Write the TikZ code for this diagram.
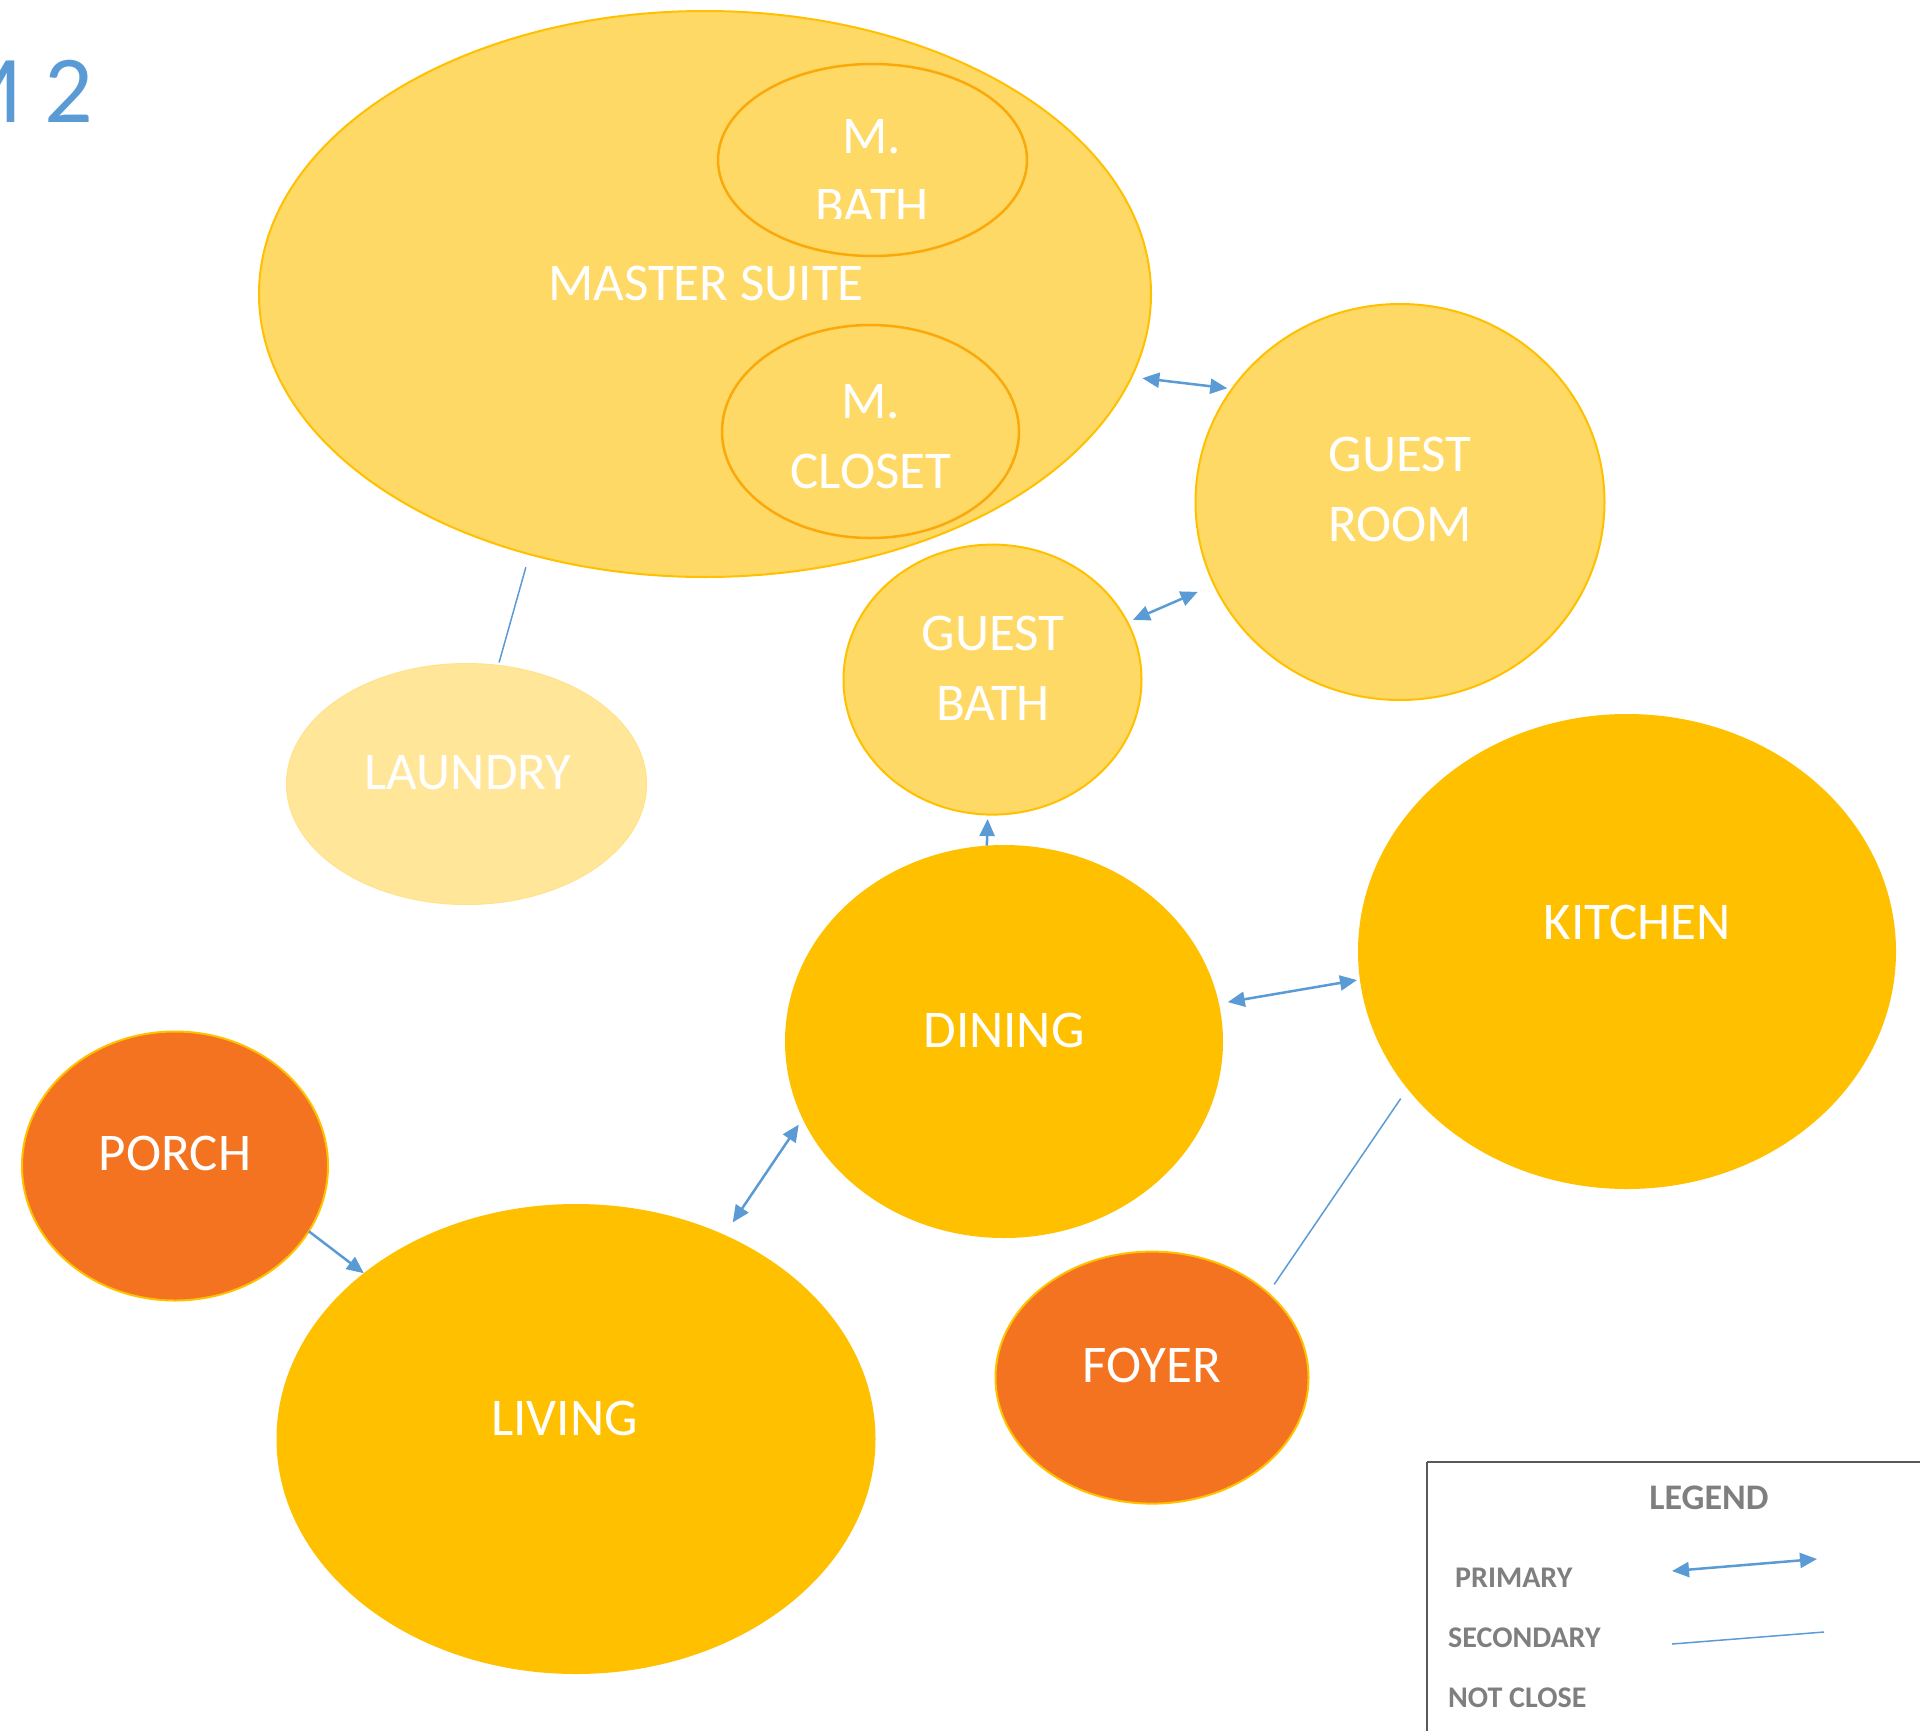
\documentclass[tikz,border=0pt]{standalone}
\usepackage{fontspec}
\setmainfont{Carlito}
\usetikzlibrary{shapes.geometric,arrows.meta}
\definecolor{lightgold}{HTML}{FFD966}
\definecolor{gold}{HTML}{FFC000}
\definecolor{paleg}{HTML}{FFE699}
\definecolor{orng}{HTML}{F47320}
\definecolor{innerb}{HTML}{FBA90A}
\definecolor{arrowblue}{HTML}{5B9BD5}
\definecolor{leggray}{HTML}{7F7F7F}
\definecolor{legbox}{HTML}{595959}
\tikzset{
  room/.style={ellipse, inner sep=0pt, outer sep=0pt},
  lbl/.style={text=white, font=\fontsize{53}{70}\selectfont, align=center, inner sep=0pt},
  primline/.style={draw=arrowblue, line width=2.5pt, {Triangle[length=17pt,width=15pt]}-{Triangle[length=17pt,width=15pt]}},
  oneway/.style={draw=arrowblue, line width=2.5pt, -{Triangle[length=17pt,width=15pt]}},
  secline/.style={draw=arrowblue, line width=1.5pt},
  legtxt/.style={text=leggray, font=\bfseries\fontsize{30}{36}\selectfont, inner sep=0pt, anchor=west}
}
\begin{document}
\begin{tikzpicture}[x=1pt,y=-1pt]
\useasboundingbox (0,0) rectangle (1920,1730);
% title
\node[anchor=base east, text=arrowblue, font=\fontsize{96}{100}\selectfont, inner sep=0pt] (title) at (93,122) {M 2};
% rooms
\node[room, fill=lightgold, draw=gold, line width=2pt, minimum width=892pt, minimum height=566pt] (ms) at (705,294) {};
\node[room, fill=lightgold, draw=innerb, line width=2.5pt, minimum width=309pt, minimum height=192pt] (mb) at (872.5,160) {};
\node[room, fill=lightgold, draw=innerb, line width=2.5pt, minimum width=297pt, minimum height=213pt] (mc) at (870.5,431.5) {};
\node[room, fill=lightgold, draw=gold, line width=2pt, minimum width=409pt, minimum height=396pt] (gr) at (1400,502) {};
\node[room, fill=lightgold, draw=gold, line width=2pt, minimum width=298pt, minimum height=270pt] (gb) at (992.5,679.6) {};
\node[room, fill=paleg, draw=paleg!90!gold, line width=1pt, minimum width=360pt, minimum height=241pt] (ld) at (466.5,784) {};
\node[room, fill=gold, minimum width=538pt, minimum height=475pt] (kt) at (1627,951.5) {};
\node[room, fill=gold, minimum width=438pt, minimum height=393pt] (dn) at (1004,1041.5) {};
\node[room, fill=orng, draw=gold, line width=2pt, minimum width=306pt, minimum height=269pt] (pc) at (175,1166) {};
\node[room, fill=gold, minimum width=599pt, minimum height=470pt] (lv) at (576,1439) {};
\node[room, fill=orng, draw=gold, line width=2pt, minimum width=313pt, minimum height=252pt] (fy) at (1152,1377.6) {};
% labels
\node[lbl] (msl) at (706,283) {MASTER SUITE};
\begin{scope}
  \clip (700,60) rectangle (1050,218);
  \node[lbl] (mbl) at (872,171.5) {M.\\BATH};
\end{scope}
\node[lbl] (mcl) at (871,436.5) {M.\\CLOSET};
\node[lbl] (grl) at (1400,489) {GUEST\\ROOM};
\node[lbl] (gbl) at (993,668) {GUEST\\BATH};
\node[lbl] (ldl) at (468,773) {LAUNDRY};
\node[lbl] (ktl) at (1637,922) {KITCHEN};
\node[lbl] (dnl) at (1004,1030) {DINING};
\node[lbl] (pcl) at (175,1153.5) {PORCH};
\node[lbl] (lvl) at (564.5,1418) {LIVING};
\node[lbl] (fyl) at (1152,1365) {FOYER};
% connectors
\draw[primline, shorten <=11pt, shorten >=5pt] (ms.-11.6) -- (gr.146.4);
\draw[primline, shorten <=6pt, shorten >=18pt] (gb.23.8) -- (gr.204.5);
\draw[oneway, shorten >=4.5pt] (dn.95.8) -- (gb.-92.3);
\draw[primline, shorten <=15pt, shorten >=7pt] (lv.54) -- (dn.201.5);
\draw[oneway] (pc.-26.4) -- (lv.142.1);
\draw[primline, shorten <=9pt, shorten >=3pt] (dn.10.8) -- (kt.186.2);
\draw[secline, shorten <=13.6pt, shorten >=3pt] (ms.236.4) -- (ld.75.5);
\draw[secline, shorten <=12pt, shorten >=10.7pt] (kt.212.25) -- (fy.36.4);
% legend
\draw[draw=legbox, line width=1.5pt] (1427,1462) -- (1427,1740) (1427,1462) -- (1930,1462);
\node[text=leggray, font=\bfseries\fontsize{36}{40}\selectfont, inner sep=0pt] (legt) at (1709,1498) {LEGEND};
\node[legtxt] (lp) at (1455,1578) {PRIMARY};
\node[legtxt] (ls) at (1448,1638) {SECONDARY};
\node[legtxt] (ln) at (1448,1698) {NOT CLOSE};
\coordinate (pa) at (1672,1571);
\coordinate (pb) at (1817,1559);
\coordinate (sa) at (1672,1644);
\coordinate (sb) at (1824,1632);
\draw[primline] (pa) -- (pb);
\draw[secline] (sa) -- (sb);
\end{tikzpicture}
\end{document}
